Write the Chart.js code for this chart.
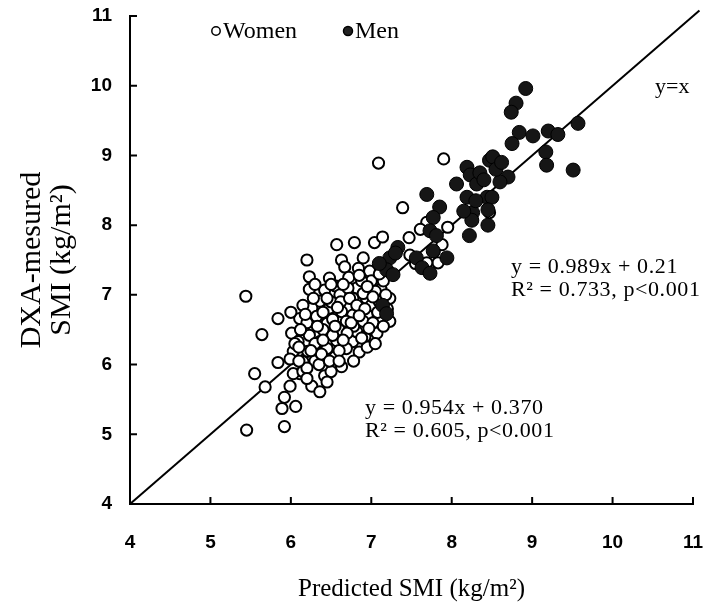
<!DOCTYPE html>
<html>
<head>
<meta charset="utf-8">
<title>SMI scatter</title>
<script src="https://cdn.jsdelivr.net/npm/chart.js@4"></script>
<style>
  html, body { margin: 0; padding: 0; background: #fff; }
  #wrap { width: 705px; height: 612px; }
</style>
</head>
<body>
<div id="wrap"><canvas id="smiChart"></canvas></div>
<script>
var womenX = [7.09, 7.90, 7.39, 8.47, 7.69, 7.61, 7.95, 6.79, 7.04, 7.14, 7.47, 6.90, 6.84, 6.98, 7.48, 7.83,
  7.69, 7.78, 7.88, 6.82, 6.94, 7.23, 6.86, 6.77, 6.57, 6.20, 6.63, 6.67, 6.23, 6.48, 6.23, 6.42,
  6.55, 6.61, 6.71, 5.44, 6.36, 6.26, 5.84, 6.11, 6.48, 6.63, 6.77, 5.64, 6.32, 6.01, 6.23, 6.45,
  6.69, 6.09, 6.36, 6.57, 6.77, 6.03, 6.21, 6.45, 6.69, 5.84, 5.99, 6.15, 6.30, 6.55, 6.85, 6.63,
  5.55, 5.68, 5.99, 6.11, 6.26, 6.42, 6.36, 5.92, 5.89, 6.06, 5.45, 5.92, 6.03, 6.15, 7.23, 6.82,
  6.92, 7.07, 6.78, 6.95, 7.00, 6.50, 6.60, 6.90, 7.02, 7.10, 6.40, 6.52, 6.20, 6.30, 6.90, 7.00,
  7.12, 6.62, 6.95, 7.05, 6.40, 6.72, 6.15, 6.88, 7.15, 6.00, 6.35, 6.50, 6.20, 7.05, 7.55,
  6.05, 6.12, 6.18, 6.28, 6.33, 6.38, 6.45, 6.48, 6.52, 6.58, 6.60, 6.65, 6.70, 6.73, 6.78, 6.82,
  6.85, 6.88, 6.92, 6.97, 7.02, 7.08, 7.10, 7.15, 7.18, 6.25, 6.10, 6.40, 6.55, 6.65, 6.75, 6.85,
  6.95, 6.50, 6.30, 6.45, 6.60, 6.20, 6.10, 7.20];
var womenY = [8.89, 8.95, 8.25, 8.18, 8.04, 7.94, 7.97, 7.75, 7.75, 7.83, 7.82, 7.53, 7.38, 7.34, 7.57, 7.46,
  7.46, 7.62, 7.72, 7.10, 6.95, 6.95, 6.81, 6.95, 7.72, 7.50, 7.50, 7.40, 7.26, 7.24, 7.08, 7.07,
  7.13, 7.00, 7.10, 6.98, 6.91, 6.81, 6.66, 6.66, 6.81, 6.76, 6.71, 6.43, 6.69, 6.45, 6.42, 6.59,
  6.62, 6.33, 6.33, 6.34, 6.33, 6.19, 6.19, 6.23, 6.23, 6.03, 6.08, 6.04, 6.05, 6.11, 6.18, 5.97,
  5.87, 5.68, 5.69, 5.87, 5.69, 5.84, 5.61, 5.53, 5.37, 5.40, 5.06, 5.11, 5.87, 5.90, 6.62, 6.47,
  6.40, 6.45, 6.55, 6.71, 6.85, 6.90, 6.50, 6.62, 6.60, 6.90, 6.50, 6.42, 6.60, 6.30, 7.02, 7.20,
  7.08, 6.90, 6.25, 7.05, 6.75, 7.25, 6.85, 7.20, 7.20, 6.75, 6.00, 5.90, 5.95, 6.30, 7.45,
  6.30, 6.50, 6.72, 6.95, 6.55, 6.15, 6.95, 6.05, 6.65, 6.82, 6.20, 7.15, 6.45, 6.95, 6.05, 6.85,
  7.28, 6.38, 6.80, 6.52, 6.97, 6.75, 7.30, 6.55, 7.00, 6.20, 6.05, 6.35, 6.55, 6.35, 6.60, 6.70,
  7.12, 7.15, 7.15, 5.75, 6.05, 5.80, 6.25, 6.80];

var menX = [8.19, 8.47, 8.23, 8.06, 8.31, 7.69, 8.19, 8.44, 7.85, 8.92, 8.80, 8.74, 8.84, 8.75, 9.01, 9.20,
  9.32, 9.57, 9.17, 9.18, 9.51, 8.51, 8.70, 8.60, 8.50, 8.26, 8.25, 8.22, 7.77, 7.73, 7.81, 7.33,
  7.23, 7.19, 7.27, 7.56, 7.63, 7.73, 7.94, 7.77, 7.14, 7.19, 8.45, 8.35, 8.55, 8.40, 8.30, 8.45,
  8.15, 8.62, 7.30, 7.10];
var menY = [8.83, 8.93, 8.72, 8.59, 8.59, 8.44, 8.40, 8.40, 8.26, 9.96, 9.75, 9.62, 9.33, 9.17, 9.28, 9.35,
  9.30, 9.46, 9.05, 8.86, 8.79, 8.98, 8.69, 8.62, 8.40, 8.18, 8.07, 7.85, 8.11, 7.92, 7.85, 7.68,
  7.53, 7.36, 7.29, 7.53, 7.39, 7.31, 7.53, 7.63, 6.85, 6.73, 8.22, 8.75, 8.80, 8.65, 8.35, 8.00,
  8.20, 8.90, 7.60, 7.45];

var identityLine = [4, 11.08];
var axisTicks = [4, 5, 6, 7, 8, 9, 10, 11];

function toPoints(xs, ys) {
  return xs.map(function (x, i) { return { x: x, y: ys[i] }; });
}

var serif = '"Liberation Serif", "Times New Roman", serif';
var sans = '"Liberation Sans Narrow", "Liberation Sans", Arial, sans-serif';

// ticks point inward, plus legend and fit text
var decorations = {
  id: 'decorations',
  afterDraw: function (chart) {
    var ctx = chart.ctx, xs = chart.scales.x, ys = chart.scales.y, a = chart.chartArea;
    ctx.save();
    ctx.strokeStyle = '#000';
    ctx.lineWidth = 2;
    axisTicks.forEach(function (v) {
      var px = xs.getPixelForValue(v);
      var py = ys.getPixelForValue(v);
      ctx.beginPath();
      ctx.moveTo(px, a.bottom);
      ctx.lineTo(px, a.bottom - 7);
      ctx.moveTo(a.left, py);
      ctx.lineTo(a.left + 7, py);
      ctx.stroke();
    });

    // legend
    ctx.lineWidth = 1.5;
    ctx.beginPath();
    ctx.arc(216, 31, 4.2, 0, Math.PI * 2);
    ctx.fillStyle = '#fff';
    ctx.fill();
    ctx.stroke();
    ctx.beginPath();
    ctx.arc(348, 31, 4.5, 0, Math.PI * 2);
    ctx.fillStyle = '#222';
    ctx.fill();
    ctx.stroke();
    ctx.fillStyle = '#000';
    ctx.textBaseline = 'middle';
    ctx.textAlign = 'left';
    ctx.font = '24px ' + serif;
    ctx.fillText('Women', 223, 32);
    ctx.fillText('Men', 355, 32);

    // annotations
    ctx.font = '22px ' + serif;
    ctx.fillText('y=x', 655, 87);
    if ('letterSpacing' in ctx) ctx.letterSpacing = '0.6px';
    ctx.fillText('y = 0.989x + 0.21', 511, 267);
    ctx.fillText('R\u00b2 = 0.733, p<0.001', 511, 290);
    ctx.fillText('y = 0.954x + 0.370', 365, 408);
    ctx.fillText('R\u00b2 = 0.605, p<0.001', 365, 431);
    ctx.restore();
  }
};

var ctx = document.getElementById('smiChart').getContext('2d');
var smiChart = new Chart(ctx, {
  type: 'scatter',
  data: {
    datasets: [
      {
        label: 'y=x',
        type: 'line',
        data: identityLine.map(function (v) { return { x: v, y: v }; }),
        borderColor: '#000',
        borderWidth: 2,
        pointRadius: 0,
        fill: false,
        clip: false,
        order: 3
      },
      {
        label: 'Women',
        data: toPoints(womenX, womenY),
        pointRadius: 5.6,
        borderWidth: 2,
        borderColor: '#000',
        backgroundColor: '#fff',
        order: 2
      },
      {
        label: 'Men',
        data: toPoints(menX, menY),
        pointRadius: 7,
        borderWidth: 1,
        borderColor: '#000',
        backgroundColor: '#161616',
        order: 1
      }
    ]
  },
  options: {
    responsive: true,
    maintainAspectRatio: false,
    animation: false,
    layout: { padding: { top: 16, right: 12, left: 0, bottom: 0 } },
    plugins: {
      legend: { display: false },
      tooltip: { enabled: false }
    },
    scales: {
      x: {
        type: 'linear',
        min: 4,
        max: 11,
        ticks: { stepSize: 1, color: '#000', padding: 27, font: { family: sans, size: 19, weight: 'bold' } },
        grid: { drawOnChartArea: false, drawTicks: false },
        border: { display: true, color: '#000', width: 2 },
        title: {
          display: true,
          text: 'Predicted SMI (kg/m\u00b2)',
          color: '#000',
          font: { family: serif, size: 25 },
          padding: { top: 0, bottom: 8 }
        },
        afterFit: function (s) { s.height = 108; s.paddingLeft = 0; s.paddingRight = 0; }
      },
      y: {
        type: 'linear',
        min: 4,
        max: 11,
        ticks: { stepSize: 1, color: '#000', padding: 18, font: { family: sans, size: 19, weight: 'bold' } },
        grid: { drawOnChartArea: false, drawTicks: false },
        border: { display: true, color: '#000', width: 2 },
        title: {
          display: true,
          text: ['DXA-mesured', 'SMI (kg/m\u00b2)'],
          color: '#000',
          font: { family: serif, size: 30, lineHeight: 1.0 },
          padding: { top: 17, bottom: 0 }
        },
        afterFit: function (s) { s.width = 130; s.paddingTop = 0; s.paddingBottom = 0; }
      }
    }
  },
  plugins: [decorations]
});
</script>
</body>
</html>
